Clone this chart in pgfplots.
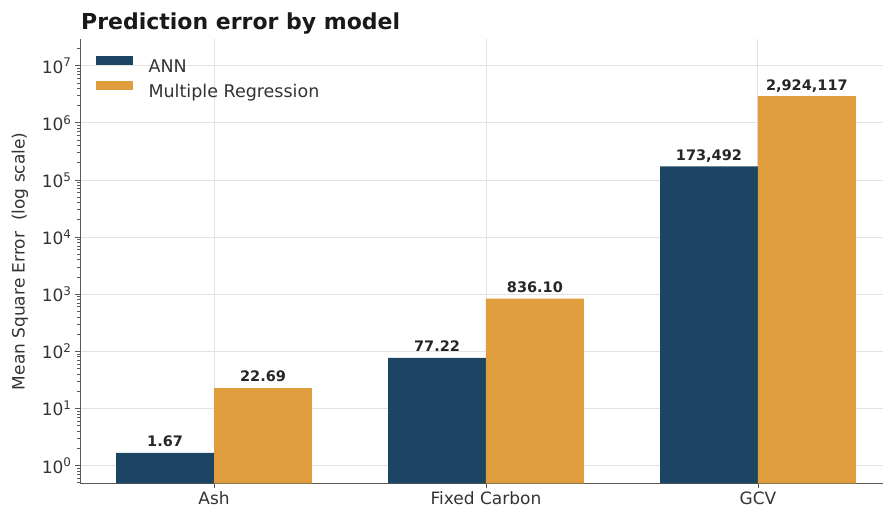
\documentclass[border=0pt]{standalone}
\usepackage{pgfplots}
\pgfplotsset{compat=1.18}
\usepackage{fontspec}
\setmainfont{DejaVu Sans}
\definecolor{ann}{HTML}{1B4562}
\definecolor{mr}{HTML}{DF9D3E}
\definecolor{gridc}{HTML}{E2E2E2}
\definecolor{txt}{HTML}{333333}
\definecolor{spine}{HTML}{5A5A5A}

\pgfplotstableread{
x y lab
0 1.67 1.67
1 77.22 77.22
2 173492 173,492
}\annTable
\pgfplotstableread{
x y lab
0 22.69 22.69
1 836.10 836.10
2 2924117 2,924,117
}\mrTable

\begin{document}
\begin{tikzpicture}
\begin{axis}[
  scale only axis, width=803bp, height=444bp,
  ybar=0pt, bar width=0.36,
  ymode=log, log basis y=10, log origin=infty,
  xmin=-0.493, xmax=2.46, ymin=0.49, ymax=2.9e7,
  xtick={0,1,2}, xticklabels={Ash,Fixed Carbon,GCV},
  ytick={1,10,100,1000,10000,100000,1000000,10000000},
  yticklabels={10\textsuperscript{0},10\textsuperscript{1},10\textsuperscript{2},10\textsuperscript{3},10\textsuperscript{4},10\textsuperscript{5},10\textsuperscript{6},10\textsuperscript{7}},
  minor ytick={0.5,0.6,0.7,0.8,0.9,
    2,3,4,5,6,7,8,9,
    20,30,40,50,60,70,80,90,
    200,300,400,500,600,700,800,900,
    2000,3000,4000,5000,6000,7000,8000,9000,
    20000,30000,40000,50000,60000,70000,80000,90000,
    200000,300000,400000,500000,600000,700000,800000,900000,
    2000000,3000000,4000000,5000000,6000000,7000000,8000000,9000000,
    20000000},
  axis x line*=bottom, axis y line*=left,
  axis line style={spine, line width=0.9bp, -},
  tick style={spine, line width=0.8bp},
  major tick length=5bp, minor tick length=3bp,
  tick align=outside,
  xmajorgrids, ymajorgrids,
  grid style={gridc, line width=0.9bp},
  minor grid style={draw=none},
  ticklabel style={font=\fontsize{17bp}{20bp}\selectfont, text=txt},
  every axis y label/.style={at={(axis description cs:-0.0747,0.5)}, rotate=90, anchor=center},
  ylabel={Mean Square Error\ \ (log scale)},
  ylabel style={font=\fontsize{17bp}{20bp}\selectfont, text=txt},
  legend style={at={(axis description cs:0.0154,0.9667)}, anchor=north west, draw=none, fill=none,
    font=\fontsize{17.5bp}{21bp}\selectfont, text=txt, row sep=5.5bp},
  legend cell align=left,
  nodes near coords style={font=\bfseries\fontsize{14.5bp}{16bp}\selectfont, text=black!85, anchor=south, inner sep=0pt, text depth=0pt, yshift=6bp},
]
\addplot[fill=ann, draw=none,
  nodes near coords, point meta=explicit symbolic,
  legend image code/.code={\fill[ann] (0bp,1.5bp) rectangle (37bp,10.5bp); \path (51bp,6bp);}]
  table[x=x, y=y, meta=lab] {\annTable};
\addlegendentry{ANN}
\addplot[fill=mr, draw=none,
  nodes near coords, point meta=explicit symbolic,
  legend image code/.code={\fill[mr] (0bp,1.5bp) rectangle (37bp,10.5bp); \path (51bp,6bp);}]
  table[x=x, y=y, meta=lab] {\mrTable};
\addlegendentry{Multiple Regression}
\coordinate (bl) at (rel axis cs:0,0);
\coordinate (tr) at (rel axis cs:1,1);
\end{axis}
\node[anchor=base west, inner sep=0pt, text=black!90, font=\bfseries\fontsize{22bp}{26bp}\selectfont] at ([shift={(1bp,10bp)}]bl |- tr) {Prediction error by model};
\pgfresetboundingbox
\path[use as bounding box] ([shift={(-80bp,-29bp)}]bl) rectangle ([shift={(0bp,39.3bp)}]tr);
\end{tikzpicture}
\end{document}
